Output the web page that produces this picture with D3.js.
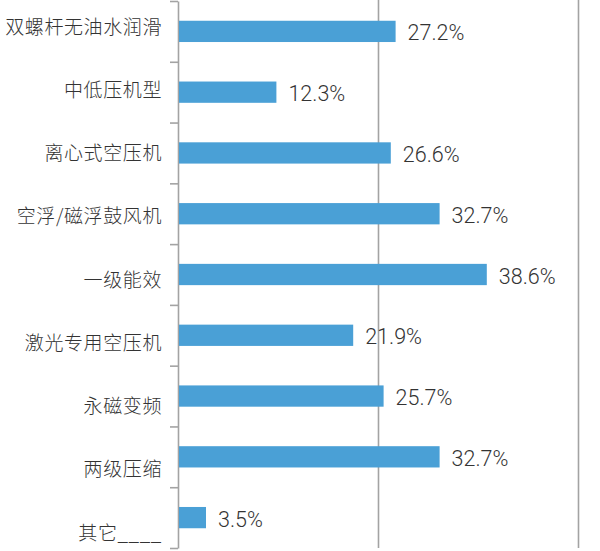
<!DOCTYPE html>
<html><head><meta charset="utf-8">
<script src="https://cdn.jsdelivr.net/npm/d3@7"></script>
<style>
html,body{margin:0;padding:0;background:#fff;}
svg{display:block;}
</style></head>
<body>
<svg id="chart" width="600" height="551"></svg>
<script>
const categories = ["双螺杆无油水润滑","中低压机型","离心式空压机","空浮/磁浮鼓风机","一级能效","激光专用空压机","永磁变频","两级压缩","其它____"];
const values = [27.2, 12.3, 26.6, 32.7, 38.6, 21.9, 25.7, 32.7, 3.5];
const gridTicks = [25, 50];

const svg = d3.select("#chart");
const x = d3.scaleLinear().domain([0, 50]).range([178, 578]);
const y = d3.scaleBand().domain(categories).range([1, 548]).paddingInner(0.65).paddingOuter(0.325);
const yLab = d3.scalePoint().domain(categories).range([27, 533]);
const boundary = d3.scaleLinear().domain([0, categories.length]).range([1, 548]);

// gridlines
const grid = svg.append("g").attr("transform", "translate(0,548)")
  .call(d3.axisTop(x).tickValues(gridTicks).tickSize(548).tickFormat(""));
grid.select(".domain").remove();
grid.selectAll(".tick line").attr("stroke", "#a3a3a3").attr("stroke-width", 1.6);

// left axis with ticks at band boundaries
const ax = svg.append("g").attr("transform", "translate(178,0)")
  .call(d3.axisLeft(boundary).tickValues(d3.range(categories.length + 1)).tickSize(8).tickSizeOuter(0).tickFormat(""));
ax.select(".domain").attr("stroke", "#a3a3a3").attr("stroke-width", 1.6);
ax.selectAll(".tick line").attr("stroke", "#a3a3a3").attr("stroke-width", 1.6);

// bars
svg.append("g").selectAll("rect").data(categories).join("rect")
  .attr("x", x(0) + 1)
  .attr("y", d => y(d))
  .attr("width", (d, i) => x(values[i]) - x(0) - 1)
  .attr("height", y.bandwidth())
  .attr("fill", "#4aa0d6");

// category labels
svg.append("g").selectAll("text").data(categories).join("text")
  .attr("x", 162)
  .attr("y", d => yLab(d))
  .attr("dy", "0.35em")
  .attr("text-anchor", "end")
  .attr("font-family", "'Noto Sans CJK SC', sans-serif")
  .attr("font-weight", 300)
  .attr("font-size", 19)
  .attr("letter-spacing", 0.6)
  .attr("fill", "#333")
  .text(d => d);

// value labels
svg.append("g").selectAll("text").data(categories).join("text")
  .attr("x", (d, i) => x(values[i]) + 12)
  .attr("y", d => y(d) + y.bandwidth() / 2 + 1.5)
  .attr("dy", "0.35em")
  .attr("font-family", "Roboto, 'Liberation Sans', sans-serif")
  .attr("font-weight", 300)
  .attr("font-size", 21.5)
  .attr("fill", "#333")
  .text((d, i) => values[i].toFixed(1) + "%");
</script>
</body></html>
